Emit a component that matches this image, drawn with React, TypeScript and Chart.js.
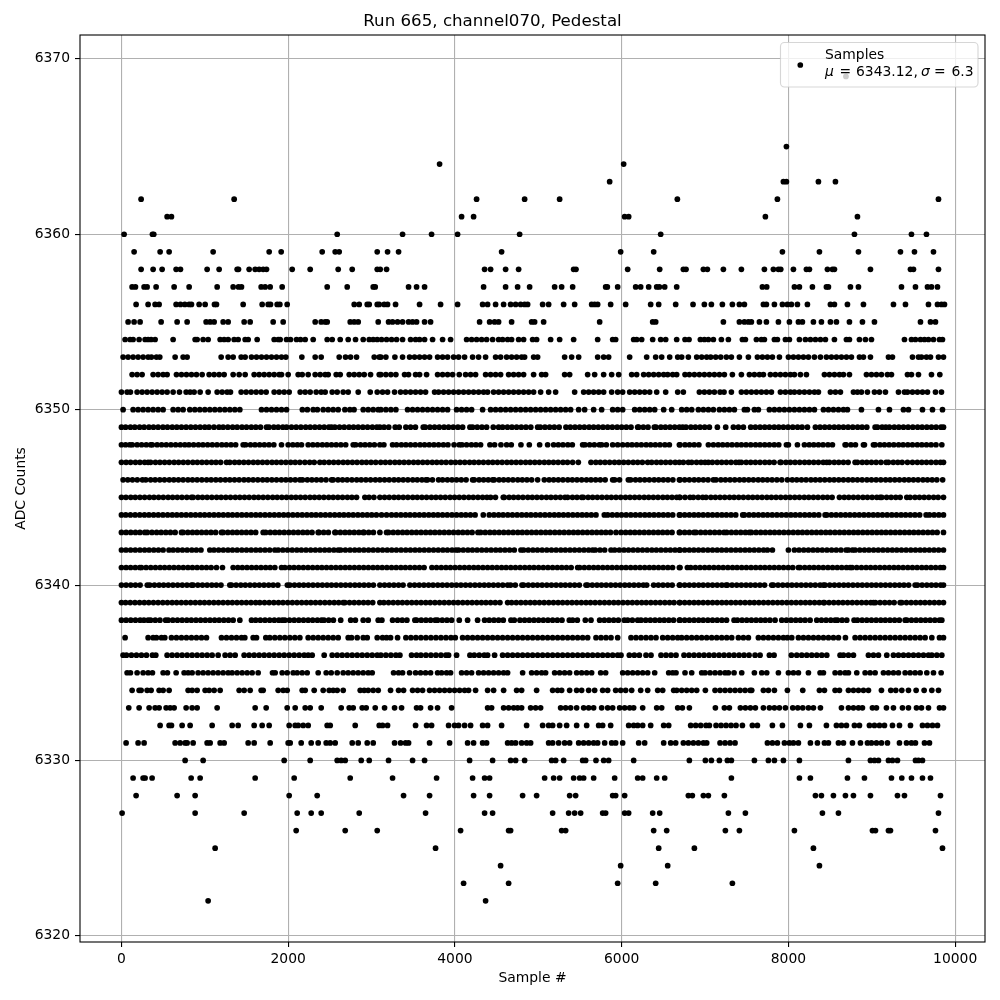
import React, { useEffect, useRef } from "react";
import { Chart, registerables } from "chart.js";

Chart.register(...registerables);

const titleText = "Run 665, channel070, Pedestal";
const xLabel = "Sample #";
const yLabel = "ADC Counts";
const legendName = "Samples";
const legendMean = "6343.12,";
const legendSigma = "6.3";
const xTicks = [0, 2000, 4000, 6000, 8000, 10000];
const yTicks = [6320, 6330, 6340, 6350, 6360, 6370];

const l6369 = [8690];
const l6365 = [7976];
const l6364 = [3816, 6024];
const l6363 = [5856, 7940, 7976, 8360, 8564];
const l6362 = [236, 1352, 4260, 4836, 5256, 6668, 7868, 9800];
const l6361 = [548, 600, 4080, 4224, 6036, 6084, 7724, 8828];
const l6360 = [32, 372, 388, 2588, 3372, 3720, 4032, 4776, 6468, 8792, 9476, 9656];
const l6359 = [152, 464, 572, 1100, 1772, 1916, 2408, 2564, 2612, 3068, 3192, 3324, 4560, 5988, 6384, 7928, 8372, 8840, 9344, 9512, 9740];
const l6358 = [236, 380, 488, 656, 708, 1028, 1172, 1388, 1404, 1532, 1604, 1652, 1700, 1740, 2048, 2264, 2600, 2768, 3068, 3104, 3180, 4356, 4428, 4608, 4764, 5424, 5452, 6072, 6456, 6740, 6772, 6980, 7028, 7220, 7436, 7712, 7820, 7880, 7908, 8060, 8216, 8252, 8468, 8528, 8552, 8984, 9464, 9500, 9800];
const l6357 = [128, 168, 272, 308, 416, 632, 812, 1148, 1340, 1404, 1440, 1676, 1724, 1784, 1928, 2468, 2708, 3020, 3044, 3444, 3540, 3636, 4344, 4608, 4752, 4896, 5196, 5280, 5412, 5808, 5828, 5952, 6168, 6228, 6324, 6420, 6452, 6516, 6660, 7688, 7740, 8072, 8132, 8288, 8456, 8480, 8744, 8840, 9356, 9524, 9668, 9716, 9788];
const l6356 = [176, 320, 404, 452, 656, 708, 760, 812, 840, 932, 1004, 1116, 1140, 1460, 1688, 1760, 1788, 1868, 1900, 1988, 2792, 2852, 2948, 2972, 3068, 3092, 3152, 3192, 3288, 3576, 3828, 4032, 4332, 4392, 4488, 4584, 4668, 4728, 4788, 4836, 4872, 5052, 5124, 5304, 5436, 5640, 5676, 5712, 5868, 6048, 6348, 6444, 6648, 6856, 6992, 7076, 7208, 7328, 7412, 7472, 7700, 7736, 7832, 7928, 7988, 8036, 8108, 8228, 8504, 8552, 8708, 8900, 9260, 9404, 9680, 9788, 9836, 9872];
const l6355 = [80, 152, 224, 476, 668, 788, 1016, 1064, 1112, 1220, 1280, 1472, 1544, 1820, 1940, 2324, 2396, 2444, 2468, 2744, 2792, 2840, 3080, 3204, 3252, 3312, 3372, 3444, 3492, 3540, 3636, 3708, 4296, 4416, 4476, 4524, 4680, 4920, 4956, 5064, 5736, 6372, 6408, 7220, 7412, 7472, 7520, 7556, 7652, 7736, 7880, 8012, 8120, 8168, 8300, 8396, 8504, 8576, 8732, 8888, 9032, 9584, 9704, 9764];
const l6354 = [44, 104, 140, 212, 284, 320, 356, 404, 620, 884, 908, 980, 1040, 1184, 1232, 1280, 1352, 1400, 1484, 1520, 1628, 1832, 1880, 1904, 1980, 2028, 2100, 2148, 2204, 2300, 2468, 2528, 2624, 2720, 2808, 2900, 2972, 3020, 3068, 3120, 3180, 3240, 3300, 3372, 3468, 3528, 3576, 3636, 3732, 3852, 3948, 4140, 4200, 4260, 4320, 4380, 4452, 4524, 4572, 4632, 4680, 4764, 4824, 4932, 4980, 5148, 5256, 5424, 5712, 5892, 5928, 6144, 6180, 6240, 6372, 6468, 6528, 6660, 6760, 6808, 6944, 6992, 7040, 7100, 7196, 7280, 7448, 7484, 7616, 7676, 7712, 7832, 7868, 7964, 8012, 8132, 8204, 8264, 8324, 8384, 8444, 8552, 8696, 8732, 8852, 8924, 8996, 9392, 9476, 9524, 9584, 9632, 9680, 9740, 9812, 9848];
const l6353 = [20, 80, 140, 200, 260, 320, 360, 420, 460, 644, 740, 788, 1196, 1280, 1340, 1436, 1484, 1560, 1620, 1680, 1740, 1800, 1860, 1920, 1972, 2164, 2324, 2396, 2612, 2688, 2748, 2820, 3032, 3092, 3112, 3172, 3280, 3372, 3456, 3516, 3576, 3636, 3696, 3792, 3852, 3912, 3984, 4044, 4116, 4212, 4284, 4368, 4488, 4548, 4620, 4680, 4740, 4800, 4836, 4944, 4992, 5316, 5400, 5484, 5712, 5784, 5844, 6096, 6300, 6408, 6480, 6576, 6672, 6720, 6800, 6900, 6960, 7020, 7068, 7128, 7188, 7256, 7316, 7412, 7520, 7628, 7688, 7748, 7808, 7892, 8000, 8060, 8120, 8180, 8240, 8312, 8384, 8456, 8516, 8576, 8636, 8696, 8756, 8852, 8900, 8984, 9200, 9248, 9488, 9560, 9596, 9656, 9704, 9800, 9860];
const l6352 = [128, 188, 248, 380, 440, 500, 548, 660, 720, 780, 840, 900, 968, 1052, 1112, 1172, 1232, 1340, 1412, 1484, 1592, 1652, 1712, 1772, 1832, 1892, 1920, 2000, 2120, 2168, 2240, 2324, 2384, 2444, 2480, 2576, 2624, 2732, 2792, 2852, 2912, 2988, 3092, 3112, 3172, 3232, 3292, 3396, 3444, 3528, 3576, 3660, 3792, 3852, 3912, 3972, 4052, 4128, 4188, 4248, 4368, 4428, 4488, 4548, 4644, 4704, 4764, 4824, 4944, 5040, 5088, 5316, 5376, 5592, 5676, 5784, 5880, 5964, 6120, 6180, 6264, 6324, 6384, 6444, 6504, 6552, 6612, 6660, 6760, 6812, 6872, 6932, 6992, 7052, 7112, 7172, 7232, 7328, 7436, 7532, 7592, 7652, 7700, 7784, 7844, 7904, 7964, 8024, 8072, 8144, 8216, 8432, 8492, 8552, 8612, 8660, 8732, 8936, 8996, 9056, 9116, 9188, 9236, 9428, 9476, 9560, 9716, 9816];
const l6351 = [0, 68, 108, 188, 248, 308, 368, 428, 488, 548, 620, 696, 776, 824, 872, 944, 1040, 1148, 1208, 1268, 1308, 1436, 1496, 1556, 1616, 1676, 1736, 1832, 1892, 1952, 2012, 2144, 2204, 2264, 2336, 2396, 2444, 2528, 2588, 2660, 2720, 2840, 2984, 3068, 3132, 3192, 3276, 3348, 3408, 3468, 3528, 3588, 3648, 3756, 3804, 3864, 3924, 3984, 4044, 4104, 4164, 4224, 4284, 4344, 4392, 4464, 4524, 4584, 4644, 4704, 4764, 4824, 4884, 4944, 5028, 5124, 5208, 5436, 5544, 5604, 5664, 5724, 5784, 5880, 5952, 6012, 6096, 6156, 6216, 6276, 6336, 6420, 6528, 6672, 6740, 6932, 6992, 7052, 7112, 7180, 7228, 7316, 7436, 7496, 7556, 7616, 7676, 7736, 7796, 7904, 7964, 8024, 8072, 8132, 8192, 8252, 8312, 8360, 8504, 8564, 8624, 8780, 8828, 8876, 8948, 9032, 9092, 9164, 9320, 9392, 9428, 9488, 9548, 9608, 9668, 9764, 9836];
const l6350 = [20, 140, 200, 260, 320, 380, 440, 500, 620, 680, 740, 820, 880, 940, 1000, 1060, 1120, 1180, 1240, 1300, 1360, 1420, 1680, 1740, 1800, 1860, 1920, 1980, 2170, 2230, 2300, 2350, 2420, 2480, 2540, 2600, 2680, 2740, 2790, 2900, 2960, 3020, 3080, 3112, 3172, 3232, 3292, 3432, 3492, 3552, 3612, 3672, 3732, 3792, 3852, 3912, 4020, 4080, 4140, 4200, 4332, 4428, 4488, 4548, 4608, 4668, 4728, 4788, 4848, 4908, 4968, 5028, 5088, 5148, 5208, 5268, 5328, 5388, 5484, 5556, 5664, 5760, 5892, 5952, 6012, 6156, 6216, 6276, 6336, 6396, 6504, 6600, 6720, 6780, 6840, 6920, 6980, 7040, 7100, 7172, 7232, 7292, 7352, 7472, 7508, 7592, 7640, 7772, 7832, 7892, 7952, 8012, 8072, 8132, 8192, 8252, 8312, 8420, 8480, 8540, 8600, 8660, 8708, 8876, 9080, 9212, 9380, 9440, 9608, 9728, 9848];
const l6349 = [0, 50, 108, 160, 218, 272, 330, 384, 440, 498, 552, 610, 664, 720, 776, 832, 888, 944, 1000, 1050, 1110, 1170, 1220, 1276, 1334, 1388, 1446, 1500, 1558, 1612, 1668, 1740, 1770, 1828, 1880, 1936, 1980, 2040, 2096, 2152, 2210, 2264, 2320, 2376, 2432, 2488, 2520, 2560, 2616, 2672, 2730, 2784, 2840, 2896, 2952, 3010, 3064, 3100, 3150, 3206, 3284, 3332, 3412, 3468, 3526, 3620, 3644, 3700, 3756, 3812, 3870, 3924, 3980, 4036, 4092, 4180, 4212, 4268, 4324, 4380, 4460, 4524, 4572, 4630, 4684, 4740, 4796, 4852, 4910, 4992, 5024, 5080, 5136, 5192, 5250, 5332, 5384, 5440, 5496, 5552, 5610, 5664, 5720, 5776, 5832, 5888, 5946, 6000, 6056, 6112, 6192, 6204, 6260, 6316, 6392, 6412, 6470, 6524, 6580, 6636, 6692, 6732, 6772, 6830, 6884, 6940, 6996, 7052, 7148, 7248, 7340, 7400, 7460, 7548, 7604, 7660, 7716, 7772, 7830, 7884, 7940, 7996, 8052, 8110, 8164, 8228, 8324, 8380, 8436, 8492, 8550, 8604, 8660, 8716, 8772, 8830, 8884, 8940, 9040, 9068, 9124, 9168, 9212, 9270, 9324, 9380, 9436, 9492, 9550, 9604, 9660, 9716, 9772, 9830, 9860];
const l6348 = [0, 50, 100, 130, 188, 242, 298, 350, 370, 428, 482, 538, 594, 650, 706, 760, 810, 866, 924, 978, 1034, 1090, 1146, 1204, 1258, 1314, 1370, 1460, 1490, 1548, 1602, 1658, 1714, 1770, 1828, 1920, 2000, 2056, 2110, 2160, 2240, 2296, 2352, 2410, 2464, 2520, 2576, 2632, 2690, 2780, 2810, 2868, 2922, 2978, 3034, 3100, 3148, 3252, 3300, 3358, 3412, 3468, 3524, 3582, 3636, 3692, 3748, 3804, 3862, 3916, 4052, 3990, 4084, 4140, 4198, 4252, 4308, 4420, 4476, 4552, 4620, 4676, 4792, 4892, 5016, 5112, 5184, 5240, 5296, 5354, 5408, 5532, 5560, 5616, 5672, 5732, 5760, 5816, 5892, 5952, 6012, 6070, 6124, 6180, 6236, 6294, 6348, 6404, 6460, 6518, 6572, 6692, 6700, 6760, 6814, 6870, 6926, 7040, 7100, 7158, 7212, 7268, 7324, 7382, 7436, 7492, 7548, 7606, 7660, 7716, 7772, 7830, 7884, 7976, 8000, 8108, 8192, 8250, 8304, 8360, 8416, 8474, 8528, 8680, 8692, 8750, 8804, 8900, 8912, 9020, 9040, 9098, 9152, 9208, 9264, 9322, 9376, 9432, 9488, 9546, 9600, 9656, 9712, 9770, 9840];
const l6347 = [0, 56, 110, 168, 222, 278, 320, 350, 408, 462, 518, 574, 632, 686, 742, 798, 856, 910, 966, 1022, 1080, 1134, 1190, 1260, 1300, 1358, 1412, 1468, 1524, 1582, 1636, 1692, 1748, 1806, 1860, 1916, 1972, 2030, 2084, 2140, 2200, 2258, 2312, 2380, 2432, 2490, 2546, 2602, 2660, 2714, 2770, 2826, 2884, 2938, 2994, 3050, 3110, 3166, 3222, 3280, 3334, 3390, 3446, 3504, 3558, 3614, 3670, 3728, 3782, 3838, 3894, 3952, 4006, 4062, 4118, 4176, 4230, 4286, 4342, 4400, 4454, 4510, 4566, 4624, 4678, 4734, 4790, 4848, 4902, 4958, 5014, 5072, 5126, 5182, 5238, 5296, 5350, 5412, 5480, 5632, 5690, 5744, 5800, 5856, 5914, 5968, 6024, 6080, 6138, 6192, 6248, 6312, 6360, 6418, 6472, 6528, 6584, 6642, 6692, 6740, 6800, 6840, 6898, 6952, 7000, 7040, 7088, 7146, 7200, 7256, 7312, 7370, 7408, 7436, 7494, 7548, 7604, 7660, 7718, 7772, 7828, 7900, 7912, 7970, 8024, 8080, 8136, 8194, 8248, 8304, 8360, 8418, 8460, 8492, 8550, 8604, 8660, 8716, 8800, 8828, 8886, 8940, 8996, 9052, 9110, 9172, 9200, 9258, 9312, 9364, 9428, 9488, 9546, 9600, 9656, 9712, 9770, 9824, 9860];
const l6346 = [20, 76, 132, 190, 252, 292, 350, 404, 460, 516, 574, 628, 684, 740, 798, 852, 908, 964, 1022, 1076, 1132, 1188, 1246, 1300, 1356, 1412, 1470, 1524, 1580, 1636, 1694, 1748, 1804, 1860, 1918, 1972, 2028, 2084, 2140, 2172, 2230, 2284, 2340, 2396, 2454, 2520, 2540, 2598, 2652, 2708, 2764, 2822, 2876, 2932, 2988, 3046, 3100, 3156, 3212, 3270, 3324, 3380, 3436, 3494, 3548, 3604, 3652, 3672, 3730, 3804, 3852, 3910, 3964, 4020, 4076, 4134, 4212, 4232, 4290, 4344, 4400, 4452, 4472, 4530, 4584, 4640, 4696, 4754, 4808, 4864, 4920, 4992, 5072, 5130, 5184, 5240, 5296, 5354, 5408, 5464, 5520, 5578, 5632, 5688, 5744, 5802, 5892, 5916, 5974, 6080, 6108, 6166, 6220, 6276, 6332, 6390, 6444, 6500, 6556, 6614, 6692, 6700, 6756, 6812, 6870, 6924, 6980, 7036, 7100, 7132, 7190, 7244, 7300, 7356, 7414, 7468, 7524, 7580, 7638, 7692, 7748, 7804, 7862, 7920, 7988, 8046, 8100, 8156, 8212, 8270, 8324, 8380, 8436, 8494, 8548, 8604, 8660, 8718, 8772, 8828, 8884, 8942, 8996, 9052, 9108, 9166, 9220, 9276, 9332, 9390, 9444, 9500, 9556, 9614, 9668, 9724, 9780, 9850];
const l6345 = [0, 54, 112, 166, 222, 278, 336, 390, 446, 502, 560, 614, 670, 726, 784, 840, 860, 918, 972, 1028, 1084, 1142, 1196, 1252, 1308, 1366, 1420, 1476, 1532, 1590, 1644, 1700, 1756, 1814, 1868, 1924, 1980, 2038, 2092, 2148, 2204, 2262, 2316, 2372, 2428, 2486, 2540, 2596, 2652, 2710, 2764, 2820, 2920, 2970, 3028, 3100, 3156, 3212, 3270, 3324, 3380, 3436, 3494, 3548, 3604, 3660, 3718, 3772, 3828, 3884, 3942, 3996, 4052, 4108, 4166, 4220, 4276, 4332, 4384, 4428, 4486, 4580, 4592, 4650, 4704, 4760, 4816, 4874, 4928, 4984, 5040, 5098, 5152, 5208, 5264, 5320, 5352, 5410, 5464, 5520, 5540, 5598, 5652, 5708, 5764, 5822, 5876, 5932, 5988, 6046, 6100, 6156, 6212, 6270, 6324, 6380, 6436, 6494, 6548, 6604, 6660, 6692, 6700, 6760, 6820, 6860, 6918, 6972, 7012, 7070, 7124, 7180, 7236, 7294, 7348, 7404, 7460, 7518, 7572, 7628, 7684, 7742, 7796, 7852, 7908, 7966, 8020, 8076, 8132, 8190, 8244, 8300, 8356, 8414, 8468, 8524, 8612, 8670, 8724, 8780, 8836, 8894, 8948, 9004, 9060, 9100, 9120, 9178, 9232, 9288, 9340, 9420, 9460, 9518, 9572, 9628, 9684, 9742, 9796, 9860];
const l6344 = [0, 52, 108, 164, 220, 276, 330, 386, 442, 498, 554, 610, 664, 720, 776, 832, 888, 944, 998, 1054, 1110, 1166, 1222, 1278, 1332, 1388, 1444, 1500, 1556, 1612, 1666, 1722, 1778, 1834, 1890, 1946, 2000, 2056, 2112, 2168, 2224, 2280, 2334, 2390, 2446, 2502, 2558, 2614, 2668, 2724, 2780, 2836, 2892, 2948, 3002, 3058, 3120, 3180, 3240, 3296, 3352, 3408, 3462, 3518, 3574, 3630, 3686, 3742, 3796, 3852, 3908, 3964, 4020, 4076, 4130, 4186, 4242, 4340, 4412, 4468, 4524, 4578, 4634, 4690, 4746, 4802, 4858, 4912, 4968, 5024, 5080, 5136, 5192, 5246, 5302, 5358, 5414, 5470, 5526, 5580, 5636, 5692, 5792, 5832, 5888, 5944, 5998, 6054, 6110, 6166, 6222, 6278, 6332, 6388, 6444, 6500, 6556, 6612, 6692, 6700, 6756, 6812, 6868, 6922, 6978, 7034, 7090, 7146, 7202, 7256, 7312, 7368, 7452, 7472, 7528, 7584, 7640, 7696, 7750, 7806, 7862, 7918, 7974, 8030, 8084, 8140, 8196, 8252, 8308, 8364, 8440, 8460, 8516, 8572, 8628, 8684, 8738, 8794, 8850, 8906, 8962, 9018, 9072, 9128, 9184, 9240, 9296, 9352, 9406, 9462, 9518, 9574, 9652, 9692, 9748, 9804, 9860];
const l6343 = [0, 56, 112, 168, 222, 280, 310, 366, 422, 476, 532, 588, 644, 720, 740, 796, 852, 906, 962, 1018, 1074, 1130, 1200, 1220, 1276, 1332, 1386, 1442, 1498, 1554, 1610, 1700, 1730, 1786, 1842, 1896, 1952, 2008, 2064, 2120, 2176, 2230, 2286, 2360, 2370, 2426, 2482, 2560, 2570, 2626, 2682, 2736, 2792, 2848, 2900, 2910, 2966, 3022, 3100, 3180, 3204, 3260, 3316, 3372, 3426, 3482, 3538, 3594, 3650, 3706, 3760, 3816, 3872, 3928, 3984, 4040, 4094, 4150, 4206, 4276, 4308, 4364, 4420, 4474, 4530, 4586, 4642, 4698, 4754, 4808, 4864, 4920, 4976, 5032, 5088, 5142, 5198, 5254, 5310, 5366, 5422, 5476, 5532, 5588, 5644, 5700, 5756, 5810, 5866, 5932, 5992, 6048, 6104, 6158, 6214, 6270, 6326, 6382, 6438, 6492, 6548, 6604, 6692, 6700, 6756, 6812, 6868, 6892, 6948, 7004, 7060, 7116, 7172, 7228, 7260, 7316, 7372, 7428, 7484, 7532, 7556, 7612, 7668, 7724, 7780, 7834, 7890, 7946, 8002, 8058, 8114, 8168, 8224, 8280, 8336, 8392, 8448, 8502, 8558, 8614, 8670, 8726, 8782, 8836, 8892, 8948, 9004, 9060, 9116, 9170, 9226, 9282, 9338, 9394, 9450, 9504, 9560, 9616, 9672, 9728, 9784, 9860];
const l6342 = [0, 54, 110, 166, 222, 278, 332, 388, 444, 500, 570, 620, 676, 732, 788, 844, 898, 954, 1060, 1110, 1166, 1222, 1278, 1332, 1388, 1444, 1500, 1556, 1612, 1666, 1722, 1778, 1840, 1880, 1936, 1992, 2048, 2104, 2158, 2214, 2270, 2326, 2382, 2438, 2492, 2548, 2600, 2630, 2686, 2742, 2798, 2852, 2908, 2964, 3020, 3076, 3132, 3188, 3242, 3298, 3354, 3410, 3466, 3522, 3576, 3632, 3688, 3744, 3800, 3856, 3910, 4012, 3966, 4044, 4100, 4156, 4210, 4266, 4322, 4378, 4434, 4490, 4544, 4600, 4656, 4712, 4792, 4824, 4880, 4936, 4990, 5046, 5102, 5158, 5214, 5270, 5324, 5380, 5436, 5492, 5548, 5652, 5604, 5684, 5740, 5796, 5872, 5916, 5972, 6028, 6082, 6138, 6194, 6250, 6306, 6362, 6416, 6472, 6528, 6584, 6640, 6692, 6700, 6756, 6812, 6866, 6922, 6978, 7034, 7090, 7146, 7200, 7256, 7312, 7368, 7424, 7480, 7534, 7590, 7646, 7748, 7702, 7808, 8000, 8072, 8128, 8184, 8240, 8296, 8350, 8406, 8462, 8518, 8574, 8692, 8630, 8720, 8768, 8800, 8856, 8912, 8966, 9022, 9078, 9134, 9190, 9246, 9300, 9356, 9412, 9468, 9524, 9580, 9634, 9690, 9746, 9802, 9860];
const l6341 = [0, 56, 110, 166, 220, 240, 296, 352, 408, 464, 518, 574, 630, 686, 742, 798, 852, 908, 964, 1020, 1076, 1140, 1212, 1340, 1396, 1450, 1506, 1562, 1618, 1674, 1730, 1784, 1840, 1920, 1960, 2016, 2070, 2126, 2182, 2238, 2294, 2350, 2404, 2460, 2516, 2572, 2628, 2684, 2738, 2794, 2850, 2906, 2962, 3018, 3072, 3128, 3184, 3240, 3296, 3352, 3406, 3462, 3518, 3574, 3630, 3724, 3780, 3836, 3892, 3946, 4002, 4058, 4114, 4170, 4226, 4280, 4336, 4392, 4448, 4504, 4560, 4614, 4670, 4726, 4782, 4838, 4894, 4948, 5004, 5060, 5116, 5172, 5228, 5282, 5338, 5394, 5472, 5496, 5552, 5608, 5664, 5718, 5774, 5830, 5886, 5942, 5998, 6052, 6108, 6164, 6220, 6276, 6332, 6386, 6442, 6498, 6554, 6610, 6692, 6700, 6788, 6828, 6884, 6940, 6996, 7050, 7106, 7162, 7218, 7274, 7330, 7384, 7440, 7496, 7552, 7608, 7664, 7718, 7774, 7830, 7886, 7942, 7998, 8052, 8120, 8140, 8196, 8252, 8306, 8362, 8418, 8474, 8530, 8586, 8640, 8740, 8696, 8764, 8820, 8876, 8932, 8986, 9042, 9098, 9154, 9210, 9266, 9320, 9376, 9432, 9488, 9544, 9600, 9654, 9710, 9766, 9822, 9860];
const l6340 = [0, 56, 112, 168, 224, 310, 340, 396, 452, 506, 562, 618, 674, 730, 840, 786, 860, 916, 972, 1028, 1084, 1138, 1194, 1300, 1320, 1376, 1432, 1486, 1542, 1598, 1654, 1710, 1766, 1820, 1876, 1990, 2020, 2076, 2132, 2186, 2242, 2298, 2354, 2410, 2466, 2520, 2576, 2632, 2688, 2744, 2800, 2854, 2910, 2966, 3022, 3100, 3156, 3212, 3268, 3324, 3378, 3460, 3516, 3572, 3628, 3684, 3738, 3794, 3850, 3906, 3962, 4018, 4072, 4128, 4184, 4240, 4296, 4352, 4406, 4462, 4518, 4574, 4632, 4668, 4724, 4804, 4824, 4880, 4936, 4990, 5046, 5102, 5158, 5214, 5270, 5324, 5380, 5436, 5492, 5572, 5592, 5648, 5704, 5758, 5814, 5870, 5926, 5982, 6038, 6092, 6148, 6204, 6300, 6260, 6384, 6440, 6496, 6552, 6606, 6692, 6700, 6756, 6812, 6868, 6924, 6978, 7034, 7090, 7146, 7252, 7202, 7268, 7324, 7380, 7436, 7492, 7546, 7602, 7658, 7714, 7800, 7820, 7876, 7932, 7988, 8042, 8098, 8154, 8210, 8266, 8322, 8380, 8420, 8440, 8496, 8552, 8608, 8664, 8718, 8774, 8830, 8886, 8942, 8998, 9052, 9108, 9164, 9220, 9276, 9332, 9386, 9442, 9520, 9548, 9604, 9660, 9716, 9770, 9826, 9860];
const l6339 = [0, 50, 106, 162, 218, 274, 328, 384, 440, 496, 552, 608, 662, 718, 774, 830, 886, 942, 996, 1052, 1108, 1164, 1220, 1276, 1330, 1386, 1442, 1498, 1554, 1610, 1660, 1716, 1772, 1828, 1884, 1938, 1994, 2050, 2106, 2162, 2218, 2272, 2328, 2384, 2440, 2496, 2552, 2606, 2660, 2680, 2736, 2792, 2848, 2904, 2958, 3014, 3100, 3148, 3204, 3260, 3316, 3370, 3426, 3482, 3538, 3594, 3650, 3704, 3760, 3816, 3872, 3928, 3984, 4038, 4094, 4150, 4206, 4262, 4318, 4372, 4428, 4484, 4540, 4632, 4680, 4736, 4792, 4848, 4904, 4958, 5014, 5070, 5126, 5182, 5238, 5292, 5348, 5404, 5460, 5516, 5572, 5626, 5682, 5738, 5794, 5850, 5906, 5960, 6016, 6072, 6128, 6184, 6240, 6294, 6350, 6406, 6462, 6518, 6574, 6628, 6692, 6700, 6756, 6812, 6868, 6922, 6978, 7034, 7090, 7146, 7202, 7256, 7312, 7368, 7424, 7480, 7536, 7590, 7646, 7702, 7758, 7814, 7870, 7924, 7980, 8036, 8092, 8148, 8204, 8258, 8314, 8420, 8370, 8432, 8488, 8544, 8600, 8654, 8710, 8766, 8822, 8878, 8934, 9020, 8988, 9044, 9100, 9156, 9212, 9268, 9340, 9360, 9416, 9472, 9528, 9584, 9638, 9694, 9750, 9806, 9860];
const l6338 = [0, 56, 112, 168, 224, 320, 270, 350, 406, 462, 530, 560, 616, 672, 728, 784, 838, 894, 950, 1006, 1062, 1118, 1172, 1228, 1284, 1340, 1420, 1560, 1610, 1666, 1722, 1778, 1834, 1930, 1888, 1960, 2016, 2072, 2128, 2184, 2240, 2294, 2400, 2350, 2430, 2486, 2542, 2630, 2750, 2806, 2900, 2960, 3080, 3124, 3252, 3312, 3368, 3424, 3520, 3540, 3596, 3652, 3708, 3764, 3792, 3848, 3904, 3960, 4052, 4152, 4272, 4356, 4412, 4468, 4524, 4580, 4672, 4712, 4780, 4836, 4892, 4948, 5004, 5060, 5116, 5172, 5228, 5284, 5372, 5412, 5468, 5564, 5632, 5736, 5792, 5848, 5904, 5960, 6032, 6072, 6128, 6192, 6232, 6288, 6344, 6400, 6456, 6510, 6566, 6622, 6692, 6700, 6756, 6812, 6868, 6924, 6978, 7034, 7090, 7146, 7202, 7258, 7348, 7388, 7444, 7500, 7556, 7612, 7668, 7722, 7778, 7840, 7920, 7976, 8032, 8088, 8144, 8260, 8200, 8340, 8396, 8452, 8560, 8508, 8588, 8644, 8700, 8788, 8828, 8884, 8940, 8996, 9052, 9108, 9162, 9218, 9274, 9330, 9400, 9420, 9476, 9532, 9588, 9644, 9700, 9756, 9812, 9840];
const l6337 = [44, 320, 380, 420, 480, 520, 600, 660, 720, 780, 840, 900, 960, 1020, 1200, 1260, 1320, 1380, 1440, 1480, 1580, 1620, 1732, 1780, 1840, 1900, 1960, 2020, 2080, 2140, 2240, 2300, 2360, 2420, 2480, 2540, 2600, 2720, 2760, 2828, 2900, 2948, 3068, 3132, 3180, 3228, 3312, 3412, 3472, 3532, 3592, 3652, 3712, 3772, 3832, 3892, 3952, 4004, 4092, 4152, 4212, 4272, 4332, 4392, 4452, 4512, 4572, 4632, 4692, 4752, 4812, 4872, 4932, 4992, 5052, 5112, 5172, 5232, 5292, 5352, 5412, 5472, 5532, 5592, 5692, 5752, 5812, 5872, 5952, 6112, 6172, 6232, 6292, 6352, 6412, 6492, 6552, 6612, 6672, 6720, 6780, 6840, 6900, 6960, 7020, 7080, 7140, 7200, 7260, 7320, 7400, 7460, 7520, 7640, 7700, 7760, 7820, 7880, 7940, 7988, 8040, 8120, 8180, 8240, 8300, 8360, 8420, 8480, 8540, 8600, 8684, 8800, 8860, 8920, 8980, 9040, 9100, 9160, 9220, 9280, 9340, 9400, 9460, 9520, 9580, 9640, 9720, 9812, 9860];
const l6336 = [20, 60, 120, 180, 240, 300, 372, 412, 548, 608, 668, 728, 788, 848, 908, 968, 1028, 1088, 1160, 1244, 1304, 1364, 1472, 1532, 1592, 1652, 1712, 1772, 1832, 1892, 1952, 2012, 2072, 2132, 2192, 2240, 2288, 2432, 2528, 2588, 2648, 2708, 2768, 2828, 2888, 2948, 3008, 3068, 3112, 3172, 3232, 3292, 3340, 3480, 3540, 3592, 3652, 3712, 3772, 3832, 3892, 3924, 4020, 4180, 4232, 4292, 4352, 4392, 4476, 4572, 4632, 4692, 4752, 4812, 4872, 4932, 4992, 5052, 5112, 5172, 5232, 5292, 5352, 5412, 5472, 5532, 5592, 5652, 5712, 5772, 5832, 5892, 5952, 5992, 6092, 6152, 6212, 6292, 6352, 6472, 6532, 6592, 6652, 6748, 6808, 6868, 6928, 6988, 7048, 7108, 7168, 7228, 7288, 7348, 7408, 7468, 7528, 7600, 7660, 7772, 7828, 8036, 8100, 8160, 8220, 8280, 8340, 8400, 8460, 8620, 8660, 8720, 8780, 8960, 9020, 9080, 9180, 9260, 9320, 9380, 9440, 9500, 9560, 9620, 9680, 9720, 9780, 9840];
const l6335 = [68, 108, 188, 260, 320, 372, 500, 552, 656, 752, 800, 848, 920, 980, 1040, 1100, 1160, 1220, 1280, 1328, 1388, 1448, 1508, 1568, 1640, 1812, 1844, 1928, 1988, 2060, 2108, 2168, 2228, 2360, 2456, 2516, 2588, 2660, 2720, 2780, 2840, 2900, 2960, 3008, 3264, 3324, 3372, 3456, 3528, 3588, 3648, 3708, 3792, 3840, 3900, 3948, 4080, 4140, 4200, 4284, 4344, 4404, 4464, 4524, 4584, 4632, 4812, 4920, 4980, 5040, 5088, 5196, 5256, 5316, 5376, 5460, 5520, 5580, 5640, 5748, 5808, 6012, 6072, 6132, 6192, 6252, 6312, 6396, 6564, 6612, 6652, 6760, 6840, 6960, 7000, 7060, 7120, 7180, 7240, 7280, 7348, 7440, 7592, 7680, 7740, 7880, 8000, 8060, 8120, 8240, 8380, 8420, 8560, 8620, 8680, 8720, 8820, 8920, 8980, 9040, 9140, 9200, 9260, 9320, 9400, 9460, 9520, 9580, 9660, 9740, 9832];
const l6334 = [128, 212, 236, 308, 356, 452, 500, 572, 800, 848, 908, 1004, 1052, 1112, 1184, 1412, 1472, 1544, 1676, 1700, 1880, 1940, 1988, 2168, 2204, 2312, 2420, 2492, 2540, 2588, 2660, 2864, 2912, 2960, 3020, 3080, 3228, 3324, 3384, 3492, 3552, 3612, 3696, 3756, 3816, 3876, 3936, 3996, 4056, 4116, 4164, 4248, 4392, 4464, 4584, 4740, 4800, 4980, 5172, 5232, 5280, 5376, 5460, 5520, 5604, 5676, 5772, 5832, 5928, 5988, 6048, 6120, 6228, 6312, 6432, 6492, 6624, 6660, 6720, 6780, 6840, 6900, 7004, 7120, 7180, 7240, 7300, 7360, 7420, 7480, 7540, 7560, 7700, 7760, 7832, 7988, 8172, 8372, 8432, 8560, 8612, 8720, 8780, 8840, 8900, 8960, 9116, 9228, 9288, 9360, 9440, 9532, 9628, 9720, 9800];
const l6333 = [88, 212, 332, 404, 452, 536, 584, 632, 776, 848, 908, 1148, 1604, 1736, 1988, 2084, 2204, 2264, 2396, 2636, 2732, 2780, 2888, 2936, 3044, 3156, 3276, 3360, 3540, 3588, 3708, 3792, 3960, 4392, 4440, 4584, 4644, 4704, 4752, 4800, 4908, 4968, 5028, 5268, 5328, 5388, 5460, 5544, 5604, 5664, 5760, 5832, 5892, 5976, 6036, 6096, 6144, 6252, 6420, 6480, 6672, 6728, 6812, 7124, 7232, 7292, 7424, 7484, 7544, 7604, 7700, 7772, 7832, 7892, 7964, 8052, 8112, 8172, 8240, 8300, 8384, 8636, 8720, 8780, 8840, 8888, 9008, 9056, 9176, 9260, 9368, 9440, 9536, 9596, 9680, 9812, 9860];
const l6332 = [464, 572, 600, 728, 824, 1088, 1328, 1400, 1592, 1688, 1772, 2012, 2084, 2120, 2180, 2240, 2468, 2504, 2804, 3092, 3132, 3192, 3528, 3660, 3720, 3924, 3996, 4044, 4116, 4188, 4332, 4392, 4560, 4860, 5052, 5124, 5172, 5256, 5340, 5460, 5580, 5724, 5772, 5868, 6084, 6144, 6192, 6252, 6348, 6504, 6564, 6828, 6888, 6948, 7012, 7052, 7132, 7192, 7252, 7312, 7372, 7448, 7568, 7628, 7808, 7928, 8144, 8252, 8456, 8576, 8636, 8696, 8792, 8852, 8972, 9032, 9092, 9152, 9248, 9332, 9464, 9608, 9668, 9728, 9788];
const l6331 = [56, 200, 272, 644, 704, 764, 788, 860, 1028, 1064, 1184, 1232, 1520, 1592, 1784, 2000, 2024, 2156, 2276, 2360, 2456, 2504, 2564, 2768, 2840, 2948, 3020, 3276, 3348, 3408, 3444, 3696, 3936, 4152, 4224, 4332, 4380, 4632, 4680, 4728, 4800, 4860, 4908, 5124, 5172, 5244, 5316, 5376, 5484, 5544, 5604, 5664, 5712, 5796, 5880, 5928, 6012, 6204, 6276, 6504, 6588, 6648, 6740, 6800, 6860, 6920, 6980, 7020, 7180, 7240, 7300, 7360, 7748, 7808, 7868, 7952, 8012, 8060, 8120, 8264, 8348, 8432, 8480, 8600, 8660, 8768, 8864, 8948, 8996, 9056, 9116, 9188, 9332, 9416, 9476, 9524, 9632, 9692];
const l6330 = [764, 980, 1952, 2264, 2588, 2636, 2684, 2876, 2972, 3204, 3492, 3636, 4176, 4452, 4668, 4728, 4836, 5160, 5208, 5304, 5532, 5568, 5692, 5784, 5844, 6144, 6812, 7004, 7076, 7172, 7268, 7316, 7592, 7760, 7832, 7940, 8132, 8720, 8984, 9032, 9080, 9200, 9248, 9308, 9524, 9560, 9608];
const l6329 = [140, 260, 284, 368, 836, 944, 1604, 2072, 2744, 3252, 3780, 4212, 4356, 4416, 5076, 5184, 5256, 5424, 5496, 5544, 5664, 5916, 6192, 6252, 6420, 6516, 7316, 8132, 8264, 8708, 8912, 9236, 9360, 9476, 9608, 9704];
const l6328 = [176, 668, 884, 2012, 2348, 3384, 3696, 4224, 4416, 4812, 4980, 5376, 5448, 5892, 5928, 6036, 6800, 6848, 6980, 7040, 7232, 8324, 8396, 8540, 8684, 8780, 8984, 9308, 9392, 9824];
const l6327 = [8, 884, 1472, 2108, 2276, 2396, 2852, 3648, 4356, 4452, 5172, 5364, 5436, 5508, 5772, 5808, 6036, 6084, 6372, 6456, 7280, 7484, 8408, 8600, 9800];
const l6326 = [2096, 2684, 3068, 4068, 4644, 4668, 5280, 5328, 6384, 6540, 7244, 7412, 8072, 9008, 9044, 9200, 9224, 9764];
const l6325 = [1124, 3768, 6444, 6872, 8300, 9848];
const l6324 = [4548, 5988, 6552, 8372];
const l6323 = [4104, 4644, 5952, 6408, 7328];
const l6322 = [1040, 4368];

const adcLevels: [number, number[]][] = [
  [6369, l6369], [6365, l6365], [6364, l6364], [6363, l6363], [6362, l6362], [6361, l6361], [6360, l6360],
  [6359, l6359], [6358, l6358], [6357, l6357], [6356, l6356], [6355, l6355], [6354, l6354], [6353, l6353],
  [6352, l6352], [6351, l6351], [6350, l6350], [6349, l6349], [6348, l6348], [6347, l6347], [6346, l6346],
  [6345, l6345], [6344, l6344], [6343, l6343], [6342, l6342], [6341, l6341], [6340, l6340], [6339, l6339],
  [6338, l6338], [6337, l6337], [6336, l6336], [6335, l6335], [6334, l6334], [6333, l6333], [6332, l6332],
  [6331, l6331], [6330, l6330], [6329, l6329], [6328, l6328], [6327, l6327], [6326, l6326], [6325, l6325],
  [6324, l6324], [6323, l6323], [6322, l6322],
];

const FONT = '"DejaVu Sans"';

const framePlugin = {
  id: "frame",
  afterDatasetsDraw(chart: any) {
    const { ctx, chartArea: a } = chart;
    ctx.save();
    ctx.strokeStyle = "#000";
    ctx.lineWidth = 1.1;
    ctx.strokeRect(a.left, a.top, a.right - a.left, a.bottom - a.top);
    // legend box
    ctx.beginPath();
    ctx.roundRect(780.5, 42.5, 197.5, 44.5, 4);
    ctx.fillStyle = "rgba(255,255,255,0.8)";
    ctx.fill();
    ctx.strokeStyle = "rgba(204,204,204,0.8)";
    ctx.lineWidth = 1.1;
    ctx.stroke();
    ctx.beginPath();
    ctx.arc(800.3, 65, 2.85, 0, Math.PI * 2);
    ctx.fillStyle = "#000";
    ctx.fill();
    ctx.textBaseline = "alphabetic";
    ctx.textAlign = "left";
    ctx.font = `13.89px ${FONT}`;
    ctx.fillText(legendName, 825, 59);
    const parts: [string, number, boolean][] = [
      ["\u03bc", 825, true],
      ["=", 839.5, false],
      [legendMean, 856, false],
      ["\u03c3", 921, true],
      ["=", 934, false],
      [legendSigma, 951.5, false],
    ];
    for (const [t, x, it] of parts) {
      ctx.font = `${it ? "italic " : ""}13.89px ${FONT}`;
      ctx.fillText(t, x, 76);
    }
    ctx.restore();
  },
};

export default function App() {
  const ref = useRef<HTMLCanvasElement>(null);
  useEffect(() => {
    const points = adcLevels.flatMap(([y, xs]) => xs.map((x) => ({ x, y })));
    const chart = new Chart(ref.current!, {
      type: "scatter",
      data: {
        datasets: [
          {
            label: legendName,
            data: points,
            backgroundColor: "#000",
            borderColor: "#000",
            borderWidth: 0,
            pointRadius: 2.85,
          },
        ],
      },
      plugins: [framePlugin],
      options: {
        animation: false,
        responsive: false,
        layout: { padding: { left: 0, right: 15, top: 0, bottom: 0 } },
        plugins: {
          legend: { display: false },
          tooltip: { enabled: false },
          title: {
            display: true,
            text: titleText,
            color: "#000",
            font: { family: FONT, size: 16.67, weight: "normal" },
            padding: { top: 12, bottom: 3 },
          },
        },
        scales: {
          x: {
            type: "linear",
            min: -497,
            max: 10358,
            afterBuildTicks: (s: any) => { s.ticks = xTicks.map((value) => ({ value })); },
            afterFit: (s: any) => { s.height = 58; s.paddingLeft = 0; s.paddingRight = 0; },
            border: { display: false },
            grid: { color: "#b0b0b0", lineWidth: 1.1, tickColor: "#000", tickLength: 5, tickWidth: 1.1 },
            ticks: {
              maxRotation: 0,
              autoSkip: false,
              color: "#000",
              padding: 4,
              font: { family: FONT, size: 13.89 },
              callback: (v: any) => String(v),
            },
            title: {
              display: true,
              text: xLabel,
              color: "#000",
              font: { family: FONT, size: 13.89 },
              padding: { top: 0, bottom: 13 },
            },
          },
          y: {
            type: "linear",
            min: 6319.65,
            max: 6371.36,
            afterBuildTicks: (s: any) => { s.ticks = yTicks.map((value) => ({ value })); },
            afterFit: (s: any) => { s.width = 80; s.paddingTop = 0; s.paddingBottom = 0; },
            border: { display: false },
            grid: { color: "#b0b0b0", lineWidth: 1.1, tickColor: "#000", tickLength: 5, tickWidth: 1.1 },
            ticks: {
              autoSkip: false,
              color: "#000",
              padding: 5,
              font: { family: FONT, size: 13.89 },
              callback: (v: any) => String(v),
            },
            title: {
              display: true,
              text: yLabel,
              color: "#000",
              font: { family: FONT, size: 13.89 },
              padding: { top: 13, bottom: 0 },
            },
          },
        },
      },
    } as any);
    return () => chart.destroy();
  }, []);
  return (
    <div style={{ position: "absolute", left: 0, top: 0, width: 1000, height: 1000, background: "#fff" }}>
      <canvas ref={ref} width={1000} height={1000} style={{ display: "block" }} />
    </div>
  );
}
